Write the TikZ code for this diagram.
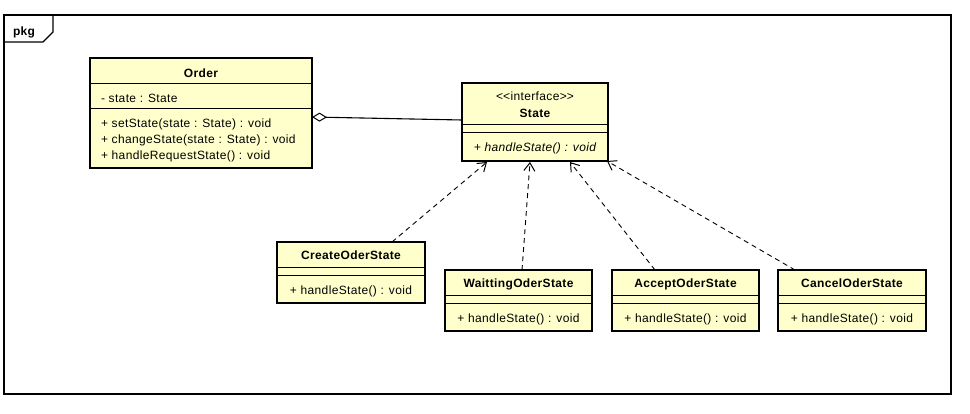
\documentclass[tikz,border=0pt]{standalone}
\usepackage{fontspec}
\setmainfont[LetterSpace=3]{Liberation Sans}
\usetikzlibrary{arrows.meta,calc}
\definecolor{classfill}{HTML}{FFFFCC}
\begin{document}
\begin{tikzpicture}[x=1pt,y=-1pt,
  every node/.style={inner sep=0pt,outer sep=0pt},
  txt/.style={font=\fontsize{12}{14}\selectfont,anchor=base},
  lefttxt/.style={txt,anchor=base west},
  bold/.style={txt,font=\fontsize{12}{14}\selectfont\bfseries},
  classbox/.style={draw=black,fill=classfill,line width=2pt,rectangle},
  sepline/.style={line width=1pt},
  realize/.style={line width=0.9pt,dash pattern=on 5pt off 4pt,-{Straight Barb[length=8pt,width=11pt,line width=1pt]}},
  agg/.style={line width=1.1pt,{Diamond[open,length=15pt,width=9pt,line width=1pt]}-}]
\useasboundingbox (0,0) rectangle (970,413);
% package frame
\node[draw,line width=1.1pt,minimum width=947pt,minimum height=379pt] (frame) at (477.5,204.5) {};
\coordinate (tabA) at ($(frame.north west)+(0,27)$);
\coordinate (tabB) at ($(frame.north west)+(39,27)$);
\coordinate (tabC) at ($(frame.north west)+(49,17)$);
\coordinate (tabD) at ($(frame.north west)+(49,0)$);
\draw[line width=1.1pt] (tabA) -- (tabB) -- (tabC) -- (tabD);
\node[bold,anchor=base west] (pkgname) at (13,35) {pkg};
% Order
\node[classbox,minimum width=222pt,minimum height=110pt] (order) at (201,113) {};
\draw[sepline] ($(order.north west)+(0,25)$) -- ($(order.north east)+(0,25)$);
\draw[sepline] ($(order.north west)+(0,50)$) -- ($(order.north east)+(0,50)$);
\node[bold] (ordername) at (201,77) {Order};
\node[lefttxt] (orderattr) at (101,102) {- state : State};
\node[lefttxt] (orderm1) at (101,127) {+ setState(state : State) : void};
\node[lefttxt] (orderm2) at (101,143) {+ changeState(state : State) : void};
\node[lefttxt] (orderm3) at (101,159) {+ handleRequestState() : void};
% State
\node[classbox,minimum width=146pt,minimum height=78pt] (state) at (535,122) {};
\draw[sepline] ($(state.north west)+(0,41)$) -- ($(state.north east)+(0,41)$);
\draw[sepline] ($(state.north west)+(0,49)$) -- ($(state.north east)+(0,49)$);
\node[txt] (stereo) at (535,100) {<\kern0pt<interface>\kern0pt>};
\node[bold] (statename) at (535,117) {State};
\node[txt,font=\fontsize{12}{14}\selectfont\itshape] (statem) at (535,151) {+ handleState() : void};
% CreateOderState
\node[classbox,minimum width=148pt,minimum height=61pt] (create) at (351,272.5) {};
\draw[sepline] ($(create.north west)+(0,25)$) -- ($(create.north east)+(0,25)$);
\draw[sepline] ($(create.north west)+(0,33)$) -- ($(create.north east)+(0,33)$);
\node[bold] (createname) at (351,259) {CreateOderState};
\node[txt] (createm) at (351,294) {+ handleState() : void};
% WaittingOderState
\node[classbox,minimum width=147pt,minimum height=61pt] (wait) at (518.5,300.5) {};
\draw[sepline] ($(wait.north west)+(0,25)$) -- ($(wait.north east)+(0,25)$);
\draw[sepline] ($(wait.north west)+(0,33)$) -- ($(wait.north east)+(0,33)$);
\node[bold] (waitname) at (518.5,287) {WaittingOderState};
\node[txt] (waitm) at (518.5,322) {+ handleState() : void};
% AcceptOderState
\node[classbox,minimum width=147pt,minimum height=61pt] (accept) at (685.5,300.5) {};
\draw[sepline] ($(accept.north west)+(0,25)$) -- ($(accept.north east)+(0,25)$);
\draw[sepline] ($(accept.north west)+(0,33)$) -- ($(accept.north east)+(0,33)$);
\node[bold] (acceptname) at (685.5,287) {AcceptOderState};
\node[txt] (acceptm) at (685.5,322) {+ handleState() : void};
% CancelOderState
\node[classbox,minimum width=148pt,minimum height=61pt] (cancel) at (852,300.5) {};
\draw[sepline] ($(cancel.north west)+(0,25)$) -- ($(cancel.north east)+(0,25)$);
\draw[sepline] ($(cancel.north west)+(0,33)$) -- ($(cancel.north east)+(0,33)$);
\node[bold] (cancelname) at (852,287) {CancelOderState};
\node[txt] (cancelm) at (852,322) {+ handleState() : void};
% aggregation
\draw[agg] ($(order.north east)+(0,59)$) -- ($(state.north west)+(0,37)$);
% realizations
\draw[realize] ($(create.north west)+(115,0)$) -- ($(state.south west)+(25,1)$);
\draw[realize] ($(wait.north west)+(77,0)$) -- ($(state.south west)+(68,1)$);
\draw[realize] ($(accept.north west)+(43,0)$) -- ($(state.south west)+(108,1)$);
\draw[realize] ($(cancel.north west)+(17,0)$) -- ($(state.south west)+(145,0)$);
\end{tikzpicture}
\end{document}
